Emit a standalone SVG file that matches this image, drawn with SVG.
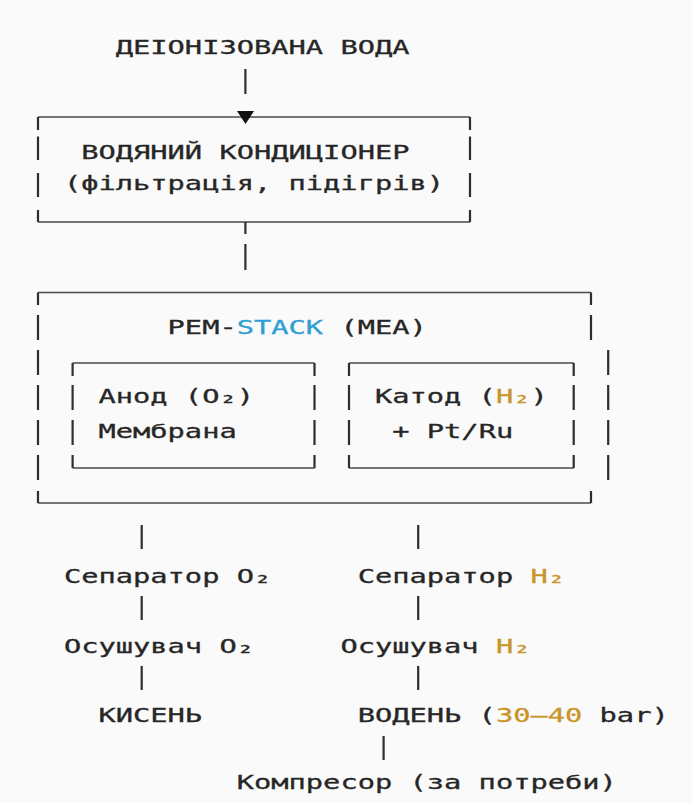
<svg xmlns="http://www.w3.org/2000/svg" width="692" height="803" viewBox="0 0 692 803">
  <style>
    .t { font-family: "DejaVu Sans Mono", "Liberation Mono", monospace; font-size: 19px; fill: #262626; stroke: #262626; stroke-width: 0.3; }
    .blue { fill: #2f9fd3; stroke: #2f9fd3; }
    .gold { fill: #c9952a; stroke: #c9952a; }
    .h { stroke: #4a4a4a; stroke-width: 1.5; fill: none; }
    .v { stroke: #2e2e2e; stroke-width: 2.2; fill: none; }
  </style>
  <rect width="692" height="803" fill="#fafafa"/>

  <g id="node-water">
    <text class="t" x="115.76" y="54" textLength="293.76" lengthAdjust="spacingAndGlyphs">ДЕІОНІЗОВАНА ВОДА</text>
  </g>

  <g id="node-conditioner">
    <path class="h" d="M38 117 H470 M38 222 H470"/>
    <path class="v" d="M38 117 V130 M470 117 V130 M38 136.5 V160 M470 136.5 V160 M38 173 V197 M470 173 V197 M38 210 V222 M470 210 V222"/>
    <text class="t" x="81.2" y="159" textLength="328.32" lengthAdjust="spacingAndGlyphs">ВОДЯНИЙ КОНДИЦІОНЕР</text>
    <text class="t" x="63.92" y="190" textLength="380.16" lengthAdjust="spacingAndGlyphs">(фільтрація, підігрів)</text>
  </g>

  <g id="node-pem">
    <path class="h" d="M38 292.5 H591 M38 503 H591"/>
    <path class="v" d="M38 292.5 V305 M591 292.5 V305 M38 491 V503 M591 491 V503
      M38 315 V340 M38 350 V375 M38 385 V410 M38 420 V445 M38 455 V480
      M591 315 V340 M608.2 350 V375 M608.2 385 V410 M608.2 420 V445 M608.2 455 V480"/>
    <text class="t" x="167.6" y="334" textLength="259.2" lengthAdjust="spacingAndGlyphs">PEM-<tspan class="blue">STACK</tspan> (MEA)</text>
  </g>

  <g id="node-anode">
    <path class="h" d="M72.6 363 H314.5 M72.6 468 H314.5"/>
    <path class="v" d="M72.6 363 V376 M314.5 363 V376 M72.6 385 V410 M314.5 385 V410 M72.6 420 V445 M314.5 420 V445 M72.6 455 V468 M314.5 455 V468"/>
    <text class="t" x="98.48" y="403" textLength="155.52" lengthAdjust="spacingAndGlyphs">Анод (O₂)</text>
    <text class="t" x="98.48" y="438" textLength="138.24" lengthAdjust="spacingAndGlyphs">Мембрана</text>
  </g>

  <g id="node-cathode">
    <path class="h" d="M349 363 H573.7 M349 468 H573.7"/>
    <path class="v" d="M349 363 V376 M573.7 363 V376 M349 385 V410 M573.7 385 V410 M349 420 V445 M573.7 420 V445 M349 455 V468 M573.7 455 V468"/>
    <text class="t" x="374.96" y="403" textLength="172.8" lengthAdjust="spacingAndGlyphs">Катод (<tspan class="gold">H₂</tspan>)</text>
    <text class="t" x="392.24" y="438" textLength="120.96" lengthAdjust="spacingAndGlyphs">+ Pt/Ru</text>
  </g>

  <g id="node-sep-o2">
    <text class="t" x="63.92" y="583" textLength="207.36" lengthAdjust="spacingAndGlyphs">Сепаратор O₂</text>
  </g>
  <g id="node-sep-h2">
    <text class="t" x="357.68" y="583" textLength="207.36" lengthAdjust="spacingAndGlyphs">Сепаратор <tspan class="gold">H₂</tspan></text>
  </g>
  <g id="node-dry-o2">
    <text class="t" x="63.92" y="653" textLength="190.08" lengthAdjust="spacingAndGlyphs">Осушувач O₂</text>
  </g>
  <g id="node-dry-h2">
    <text class="t" x="340.4" y="653" textLength="190.08" lengthAdjust="spacingAndGlyphs">Осушувач <tspan class="gold">H₂</tspan></text>
  </g>
  <g id="node-oxygen">
    <text class="t" x="98.48" y="722" textLength="103.68" lengthAdjust="spacingAndGlyphs">КИСЕНЬ</text>
  </g>
  <g id="node-hydrogen">
    <text class="t" x="357.68" y="722" textLength="311.04" lengthAdjust="spacingAndGlyphs">ВОДЕНЬ (<tspan class="gold">30–40</tspan> bar)</text>
  </g>
  <g id="node-compressor">
    <text class="t" x="236.72" y="789" textLength="380.16" lengthAdjust="spacingAndGlyphs">Компресор (за потреби)</text>
  </g>

  <g id="connectors">
    <path class="v" d="M245.4 69 V94"/>
    <path d="M237 111 H254 L245.5 124 Z" fill="#111"/>
    <path class="v" d="M245.4 222 V234 M245.4 244 V270"/>
    <path class="v" d="M141.7 525 V549 M141.7 596 V620 M141.7 666 V690"/>
    <path class="v" d="M418.2 525 V549 M418.2 596 V620 M418.2 666 V690"/>
    <path class="v" d="M383.6 736 V760"/>
  </g>
</svg>
